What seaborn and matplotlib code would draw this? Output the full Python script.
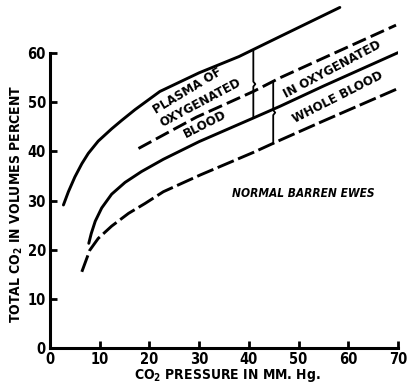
import matplotlib
matplotlib.use("Agg")
import matplotlib.pyplot as plt
import seaborn as sns

# ---- data ----
plasma_oxy_x = [2.7, 3.7, 5.0, 6.4, 7.7, 9.7, 12.4, 14.4, 17.1, 22.1, 30.0, 38.0, 46.3, 58.3]
plasma_oxy_y = [29.1, 31.8, 34.8, 37.5, 39.6, 42.1, 44.6, 46.3, 48.5, 52.2, 56.0, 59.3, 63.4, 69.3]

plasma_red_x = [17.8, 24.0, 29.5, 35.0, 40.9, 46.3, 55.0, 69.6]
plasma_red_y = [40.6, 44.0, 47.0, 49.5, 52.2, 55.0, 59.0, 65.7]

blood_oxy_x = [7.8, 8.3, 9.1, 10.4, 12.4, 15.1, 18.4, 22.8, 30.0, 40.9, 46.3, 55.0, 70.0]
blood_oxy_y = [21.3, 23.3, 25.8, 28.5, 31.3, 33.7, 35.9, 38.4, 42.0, 46.8, 49.2, 53.3, 60.1]

blood_red_x = [6.4, 8.0, 9.7, 12.4, 15.8, 19.1, 22.8, 30.2, 40.9, 46.3, 55.0, 70.0]
blood_red_y = [15.5, 19.9, 22.3, 24.8, 27.4, 29.4, 31.8, 35.2, 39.8, 42.3, 46.2, 52.8]

x_ticks = [0, 10, 20, 30, 40, 50, 60, 70]
y_ticks = [0, 10, 20, 30, 40, 50, 60]

# braces (x position, top, bottom)
brace_x = [40.9, 44.9]
brace_top = [60.6, 54.2]
brace_bot = [46.8, 41.6]

labels = ["PLASMA OF", "OXYGENATED", "BLOOD", "IN OXYGENATED", "WHOLE BLOOD"]
label_x = [27.6, 30.2, 31.2, 56.8, 57.8]
label_y = [52.4, 49.8, 45.5, 56.7, 51.0]
label_rot = [31, 28, 27, 28, 27]

sns.set_theme(style="white")
plt.rcParams['font.family'] = ['DejaVu Sans']
plt.rcParams['font.stretch'] = 'condensed'
plt.rcParams['text.color'] = 'black'
plt.rcParams['axes.labelcolor'] = 'black'
plt.rcParams['xtick.color'] = 'black'
plt.rcParams['ytick.color'] = 'black'

fig = plt.figure(figsize=(4.08, 3.84), dpi=100)
ax = fig.add_axes([50/408, 1-348/384, 348/408, 344/384])

lw = 2.1
sns.lineplot(x=plasma_oxy_x, y=plasma_oxy_y, ax=ax, color='black', lw=lw, sort=False)
sns.lineplot(x=blood_oxy_x, y=blood_oxy_y, ax=ax, color='black', lw=lw, sort=False)
sns.lineplot(x=plasma_red_x, y=plasma_red_y, ax=ax, color='black', lw=lw, sort=False,
             linestyle=(0, (5, 1.8)))
sns.lineplot(x=blood_red_x, y=blood_red_y, ax=ax, color='black', lw=lw, sort=False,
             linestyle=(0, (6, 1.6)))
for ln in ax.lines:
    ln.set_solid_capstyle('round')
    ln.set_solid_joinstyle('round')
    ln.set_dash_capstyle('butt')

for bx, bt, bb in zip(brace_x, brace_top, brace_bot):
    mid = (bt + bb) / 2
    ax.plot([bx, bx, bx + 0.4, bx, bx], [bt, mid + 0.5, mid, mid - 0.5, bb],
            color='black', lw=1.3)

for t, x, y, r in zip(labels, label_x, label_y, label_rot):
    ax.text(x, y, t, rotation=r, ha='center', va='center', fontsize=9.5,
            fontweight='bold', rotation_mode='anchor')

ax.text(50.9, 31.5, "NORMAL BARREN EWES", ha='center', va='center', fontsize=8.6,
        fontweight='bold', style='italic')

ax.set_xlim(0, 70)
ax.set_ylim(0, 70)
ax.set_xticks(x_ticks)
ax.set_yticks(y_ticks)
ax.set_xticklabels([str(v) for v in x_ticks], fontsize=10.5, fontweight='bold')
ax.set_yticklabels([str(v) for v in y_ticks], fontsize=10.5, fontweight='bold')
ax.tick_params(direction='in', length=5, width=2, color='black', pad=3,
               bottom=True, left=True)
for s in ['top', 'right']:
    ax.spines[s].set_visible(False)
for s in ['left', 'bottom']:
    ax.spines[s].set_color('black')
    ax.spines[s].set_linewidth(2.2)
ax.spines['left'].set_bounds(0, 60)
ax.set_xlabel("CO$_\\mathbf{2}$ PRESSURE IN MM. Hg.", fontsize=10, fontweight='bold')
ax.xaxis.set_label_coords(0.51, -0.055)
ax.set_ylabel("TOTAL CO$_\\mathbf{2}$ IN VOLUMES PERCENT", fontsize=10, fontweight='bold')
ax.yaxis.set_label_coords(-0.072, 0.42)
ax.grid(False)

fig.savefig("out.png", dpi=100)
